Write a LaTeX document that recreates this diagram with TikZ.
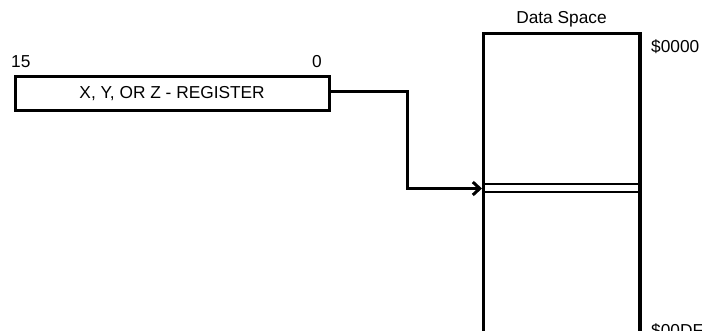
\documentclass[tikz,border=0pt]{standalone}
\usepackage{fontspec}
\setmainfont{Liberation Sans}
\usetikzlibrary{arrows.meta}
\begin{document}
\begin{tikzpicture}[x=1pt,y=-1pt,
  thick box/.style={draw=black,line width=3.2pt},
  lbl/.style={inner sep=0pt,font=\fontsize{17.3}{19}\selectfont},
  conn/.style={draw=black,line width=3pt,line join=miter},
  thin line/.style={draw=black,line width=2pt}]
\useasboundingbox (0,0) rectangle (702,330);
\begin{scope}
\clip (0,0) rectangle (702,330);
% register
\node[thick box,minimum width=314pt,minimum height=34pt,inner sep=0pt,anchor=north west,lbl] (reg) at (13.5,75) {X, Y, OR Z - REGISTER};
\node[lbl,anchor=base west] (b15) at (11,67.5) {15};
\node[lbl,anchor=base east] (b0) at (322,67.5) {0};
% data space
\draw[thick box] (483.5,33.5) coordinate (dtl) -- (640,33.5) coordinate (dtr) -- (640,345) -- (483.5,345) -- cycle;
\node[lbl,anchor=base] (dslab) at (561.5,23.5) {Data Space};
\node[lbl,anchor=base west] (a0) at (651,52) {\$0000};
\node[lbl,anchor=base west] (adf) at (651,336) {\$00DF};
% selected cell
\coordinate (c1l) at (483.5,184);
\coordinate (c1r) at (640,184);
\coordinate (c2l) at (483.5,192);
\coordinate (c2r) at (640,192);
\draw[thin line] (c1l) -- (c1r);
\draw[thin line] (c2l) -- (c2r);
\coordinate (tip) at (482,188.5);
\draw[conn,-{Straight Barb[length=7pt,width=13pt,line width=3pt]}] (reg.east |- 0,91.5) -- (407,91.5) -- (407,188.5) -- (tip);
\end{scope}
\end{tikzpicture}
\end{document}
